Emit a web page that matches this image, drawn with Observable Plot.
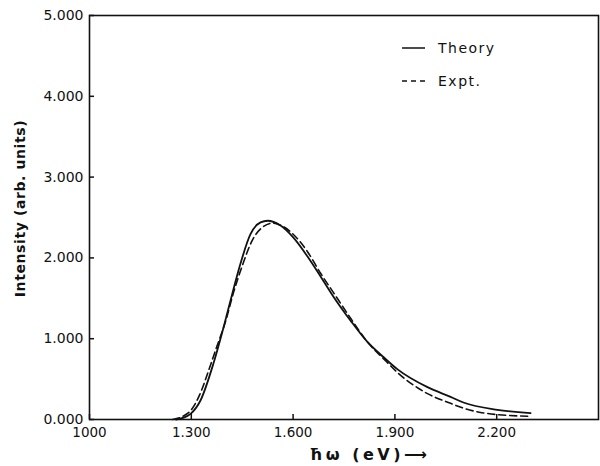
<!DOCTYPE html>
<html>
<head>
<meta charset="utf-8">
<script src="https://cdn.jsdelivr.net/npm/d3@7"></script>
<script src="https://cdn.jsdelivr.net/npm/@observablehq/plot@0.6"></script>
<style>
  body { margin: 0; background: #fff; }
  #wrap { position: relative; width: 600px; height: 466px; font-family: "DejaVu Sans", sans-serif; }
  .legend { position: absolute; left: 0; top: 0; width: 600px; height: 100px; pointer-events: none; }
</style>
</head>
<body>
<div id="wrap"></div>
<script>
// Data
const theoryX = [1255, 1275, 1298, 1327, 1365, 1395, 1421, 1445, 1474, 1504, 1525, 1563, 1601, 1642, 1681, 1719, 1770, 1819, 1867, 1908, 1996, 2064, 2102, 2202, 2300];
const theoryY = [0.0, 0.02, 0.07, 0.235, 0.69, 1.14, 1.56, 1.93, 2.29, 2.44, 2.46, 2.40, 2.25, 2.02, 1.77, 1.52, 1.22, 0.96, 0.77, 0.62, 0.40, 0.28, 0.21, 0.12, 0.08];
const exptX = [1245, 1270, 1300, 1330, 1348, 1375, 1400, 1425, 1450, 1480, 1510, 1539, 1570, 1601, 1642, 1681, 1719, 1770, 1819, 1867, 1908, 1996, 2064, 2102, 2202, 2300];
const exptY = [0.0, 0.03, 0.12, 0.36, 0.57, 0.90, 1.20, 1.58, 1.90, 2.22, 2.38, 2.43, 2.39, 2.29, 2.08, 1.81, 1.57, 1.25, 0.96, 0.75, 0.58, 0.32, 0.20, 0.14, 0.06, 0.04];
const xTicks = [1000, 1300, 1600, 1900, 2200];
const xTickLabels = ["1000", "1.300", "1.600", "1.900", "2.200"];
const yTicks = [0, 1, 2, 3, 4, 5];
const yTickLabels = ["0.000", "1.000", "2.000", "3.000", "4.000", "5.000"];
const seriesNames = ["Theory", "Expt."];

const theory = theoryX.map((x, i) => ({x, y: theoryY[i]}));
const expt = exptX.map((x, i) => ({x, y: exptY[i]}));

const xDomain = [1000, 2500];
const yDomain = [0, 5];
const tickLenY = (yDomain[1] - yDomain[0]) * 5 / 404;
const tickLenX = (xDomain[1] - xDomain[0]) * 5 / 509;

const chart = Plot.plot({
  width: 600,
  height: 466,
  marginLeft: 89,
  marginRight: 2,
  marginTop: 15,
  marginBottom: 47,
  style: {fontFamily: "DejaVu Sans, sans-serif", color: "#111", background: "#fff"},
  x: {domain: xDomain},
  y: {domain: yDomain},
  marks: [
    Plot.frame({stroke: "#111", strokeWidth: 1.6}),
    Plot.axisX(xTicks, {tickSize: 0, tickPadding: 8, fontSize: 13.5, fontWeight: 500, tickFormat: d => xTickLabels[xTicks.indexOf(d)], label: null}),
    Plot.axisY(yTicks, {tickSize: 0, tickPadding: 6, fontSize: 14, fontWeight: 500, tickFormat: d => yTickLabels[yTicks.indexOf(d)], label: null}),
    Plot.ruleX(xTicks, {y1: 0, y2: tickLenY, stroke: "#111", strokeWidth: 1.5}),
    Plot.ruleY(yTicks, {x1: xDomain[0], x2: xDomain[0] + tickLenX, stroke: "#111", strokeWidth: 1.5}),
    Plot.line(theory, {x: "x", y: "y", curve: "monotone-x", stroke: "#111", strokeWidth: 1.8}),
    Plot.line(expt, {x: "x", y: "y", curve: "monotone-x", stroke: "#111", strokeWidth: 1.6, strokeDasharray: "7,4"}),
    Plot.text(["Intensity (arb. units)"], {frameAnchor: "left", textAnchor: "middle", lineAnchor: "middle", dx: -69, dy: -9, rotate: -90, fontSize: 14, fontWeight: "bold", fill: "#111"}),
    Plot.text(["ħω (eV)⟶"], {frameAnchor: "bottom", textAnchor: "middle", lineAnchor: "middle", dx: 26, dy: 35, fontSize: 16, fontWeight: "bold", fill: "#111"})
  ]
});
document.getElementById("wrap").appendChild(chart);

// letter spacing for axis titles
d3.select(chart).selectAll("text").filter(function() { return /ω|Intensity/.test(this.textContent); })
  .style("letter-spacing", function() { return /ω/.test(this.textContent) ? "3.5px" : "0.6px"; });

// Legend overlay
const legend = d3.select("#wrap").append("svg").attr("class", "legend").attr("width", 600).attr("height", 100);
const rows = [{name: seriesNames[0], dash: null, cy: 48}, {name: seriesNames[1], dash: "5,4", cy: 81}];
rows.forEach(r => {
  legend.append("line").attr("x1", 402).attr("x2", 425).attr("y1", r.cy).attr("y2", r.cy)
    .attr("stroke", "#111").attr("stroke-width", 1.5).attr("stroke-dasharray", r.dash);
  legend.append("text").attr("x", 438).attr("y", r.cy).attr("dy", "0.35em")
    .attr("font-size", 14).attr("font-weight", 500).attr("letter-spacing", "1.5px").attr("fill", "#111")
    .style("font-family", "DejaVu Sans, sans-serif").text(r.name);
});
</script>
</body>
</html>
